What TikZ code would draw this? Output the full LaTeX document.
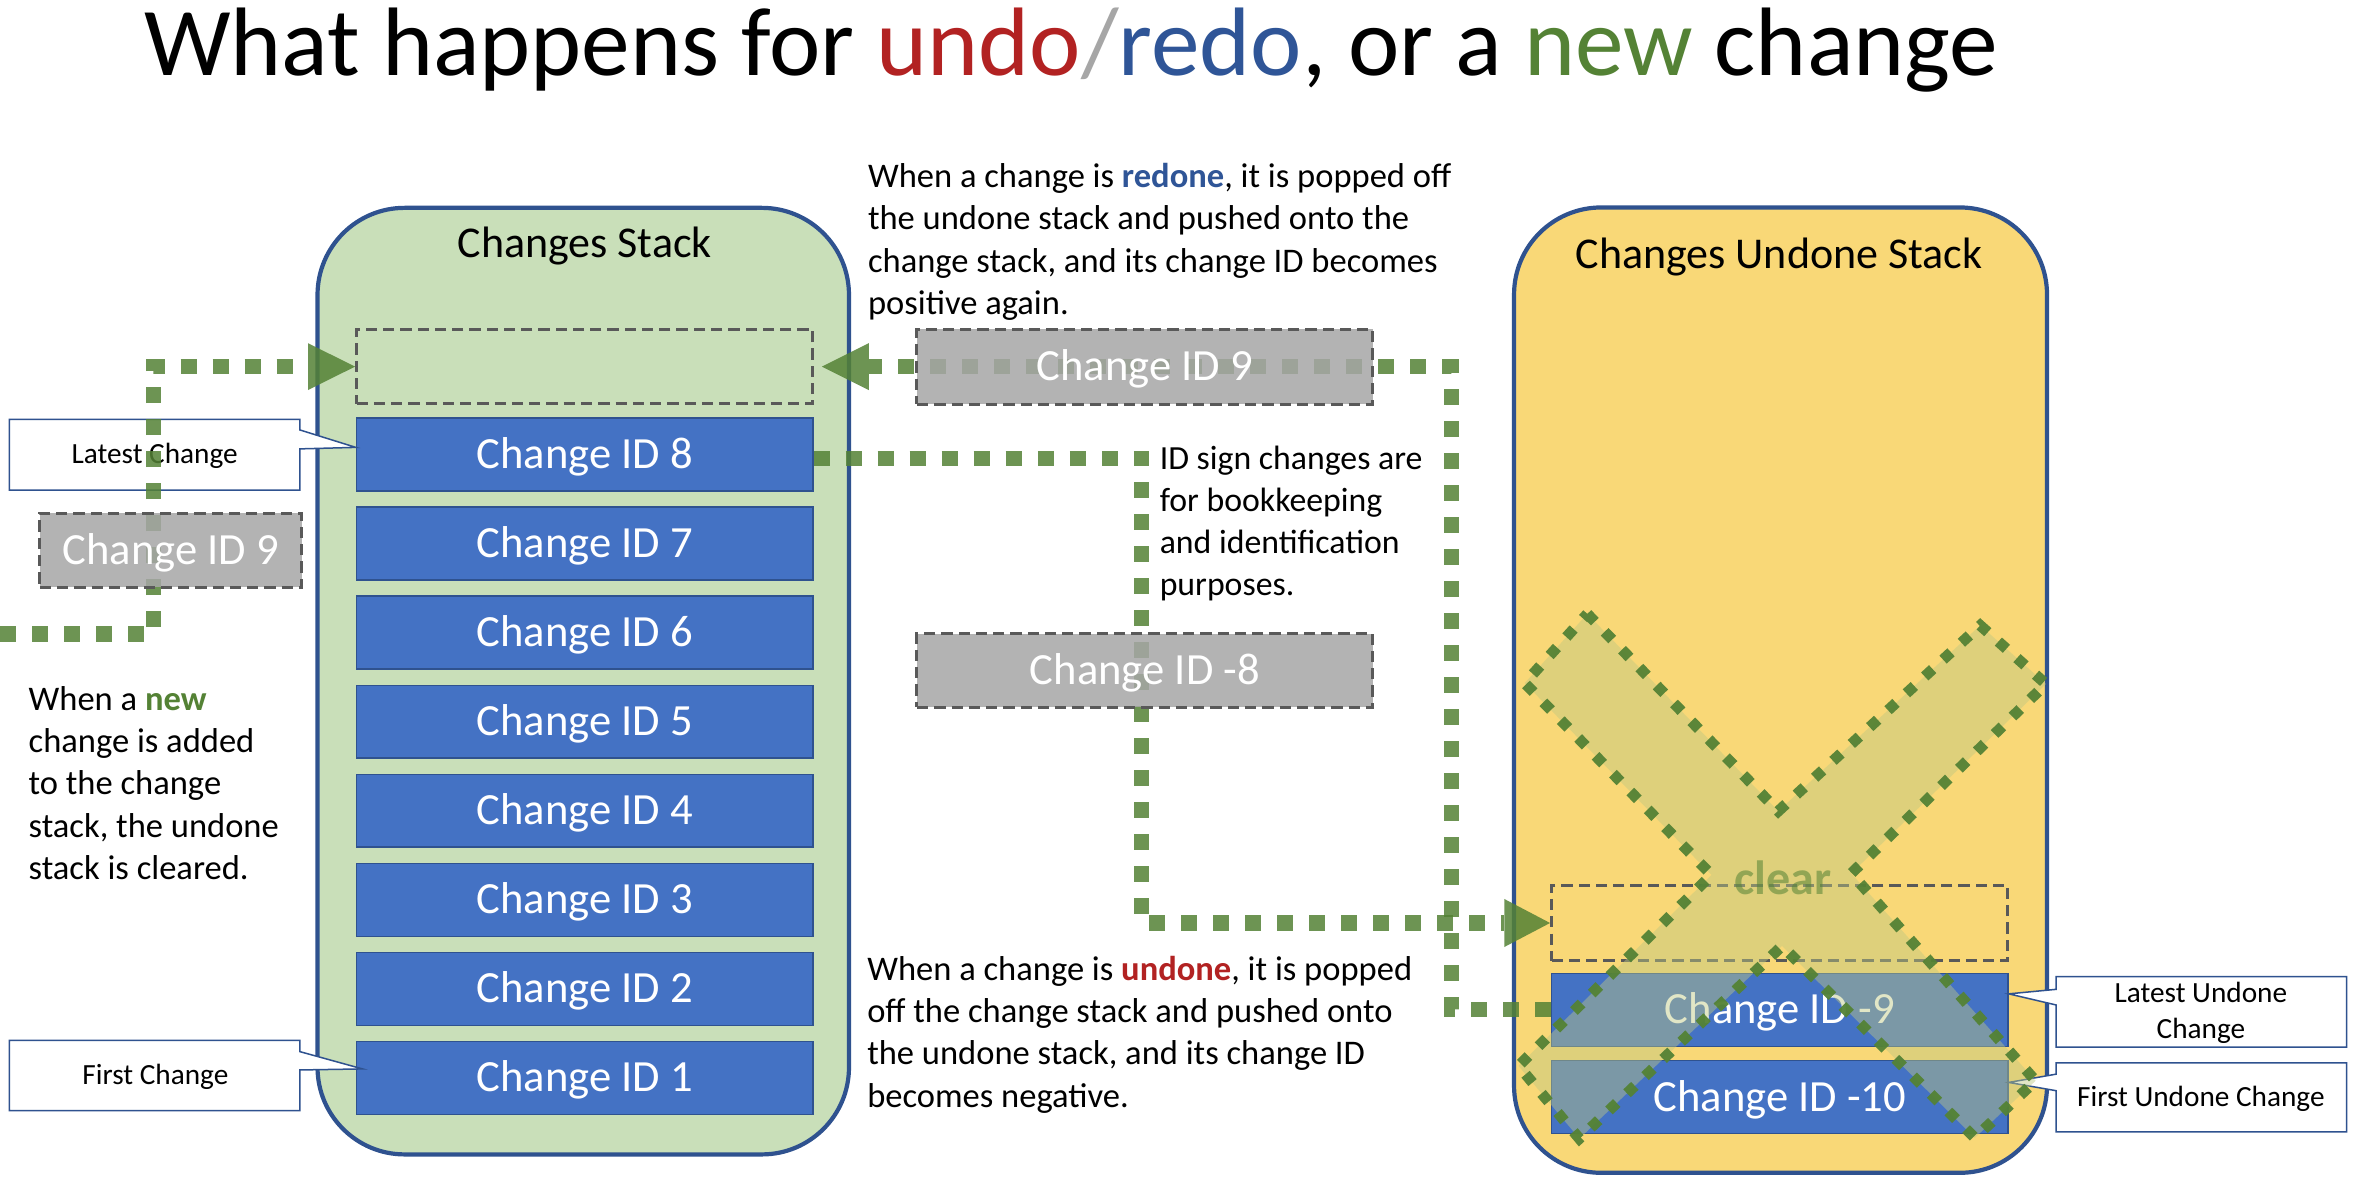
\documentclass[tikz,border=0pt]{standalone}
\usepackage{fontspec}
\setmainfont{Carlito}
\definecolor{bord}{HTML}{2F528F}
\definecolor{boxblue}{HTML}{4472C4}
\definecolor{stackgreen}{HTML}{C9DFB9}
\definecolor{stackyellow}{HTML}{F9D877}
\definecolor{flowgreen}{HTML}{548235}
\definecolor{dashgray}{HTML}{595959}
\definecolor{ghostgray}{HTML}{A6A6A6}
\definecolor{undored}{HTML}{B22222}
\definecolor{redoblue}{HTML}{2F5597}
\definecolor{slashgray}{HTML}{A6A6A6}
\definecolor{xfill}{HTML}{BEC882}
\begin{document}
\begin{tikzpicture}[x=1pt,y=-1pt,
  container/.style={draw=bord, line width=2.8pt, rounded corners=58pt, inner sep=0pt},
  stacktitle/.style={font=\fontsize{29.3}{35}\selectfont, inner sep=0pt, anchor=base},
  idbox/.style={draw=bord, line width=1pt, fill=boxblue, text=white, font=\fontsize{29.7}{35}\selectfont, minimum width=304pt, minimum height=48.5pt, inner sep=0pt, text height=18.5pt, text depth=0pt},
  slot/.style={draw=dashgray, line width=2pt, dash pattern=on 7.5pt off 4pt, minimum width=304pt, minimum height=50pt, inner sep=0pt},
  ghost/.style={draw=dashgray, line width=2pt, dash pattern=on 7.5pt off 4pt, fill=ghostgray, fill opacity=0.85, text opacity=1, text=white, font=\fontsize{29.7}{35}\selectfont, inner sep=0pt, text height=18.5pt, text depth=0pt},
  cline/.style={draw=bord, line width=1pt, fill=white},
  ctext/.style={font=\fontsize{19.5}{24}\selectfont, inner sep=0pt, anchor=base},
  flow/.style={draw=flowgreen, draw opacity=0.85, line width=10pt, dash pattern=on 10.66pt off 10.66pt},
  head/.style={fill=flowgreen, fill opacity=0.85},
  note/.style={font=\fontsize{23}{28.2}\selectfont, inner sep=0pt, anchor=base west},
  xshape/.style={fill=xfill, fill opacity=0.45, draw=flowgreen, draw opacity=0.95, line width=7.2pt, dash pattern=on 7.2pt off 9.4pt}
]
\path[use as bounding box] (0,0) rectangle (1568,789);
\fill[white] (0,0) rectangle (1568,789);

% title
\node[anchor=base, font=\fontsize{64.8}{70}\selectfont, inner sep=0pt] (title) at (713.5,50.5)
  {What happens for \textcolor{undored}{undo}\textcolor{slashgray}{/}\textcolor{redoblue}{redo}, or a \textcolor{flowgreen}{new} change};

% containers
\node[container, fill=stackgreen, minimum width=354pt, minimum height=630.5pt] (cstack) at (388.5,453.7) {};
\node[container, fill=stackyellow, minimum width=355pt, minimum height=643pt] (ustack) at (1186,459.7) {};
\node[stacktitle] (cstackT) at (389.5,171.4) {Changes Stack};
\node[stacktitle] (ustackT) at (1185,179) {Changes Undone Stack};

% changes stack contents
\node[slot, minimum height=49.6pt] (slotA) at (389.5,244.2) {};
\node[idbox] (id8) at (389.5,302.8) {Change ID 8};
\node[idbox] (id7) at (389.5,362.1) {Change ID 7};
\node[idbox] (id6) at (389.5,421.4) {Change ID 6};
\node[idbox] (id5) at (389.5,480.7) {Change ID 5};
\node[idbox] (id4) at (389.5,540.0) {Change ID 4};
\node[idbox] (id3) at (389.5,599.4) {Change ID 3};
\node[idbox] (id2) at (389.5,658.7) {Change ID 2};
\node[idbox] (id1) at (389.5,718.0) {Change ID 1};

% undone stack contents
\node[slot] (slotB) at (1185.5,614.8) {};
\node[idbox] (idm9) at (1185.5,672.7) {Change ID -9};
\node[idbox] (idm10) at (1185.5,730.8) {Change ID -10};

% callouts
\draw[cline] (6.2,279.3) -- (199.8,279.3) -- (199.8,286.4) -- ([yshift=4.8pt]id8.west) -- (199.8,299) -- (199.8,326.4) -- (6.2,326.4) -- cycle;
\node[ctext] (latestC) at (103,309) {Latest Change};
\draw[cline] (6.2,693) -- (199.8,693) -- (199.8,700.5) -- ([xshift=4.5pt,yshift=6pt]id1.west) -- (199.8,712.7) -- (199.8,739.8) -- (6.2,739.8) -- cycle;
\node[ctext] (firstC) at (103.5,722.7) {First Change};
\draw[cline] (1369.5,650.5) -- (1563,650.5) -- (1563,697.4) -- (1369.5,697.4) -- (1369.5,669.4) -- ([yshift=10.7pt]idm9.east) -- (1369.5,659) -- cycle;
\node[ctext] (latestU) at (1466,668) {\vtop{\halign{\hfil#\hfil\cr Latest Undone\cr Change\cr}}};
\draw[cline] (1369.5,708) -- (1563,708) -- (1563,754) -- (1369.5,754) -- (1369.5,726.5) -- ([yshift=9.8pt]idm10.east) -- (1369.5,715.5) -- cycle;
\node[ctext] (firstU) at (1466,737) {First Undone Change};

% flows
\coordinate (lstart) at (0,422.3);
\draw[flow] (lstart) -| (102,244.2) -- ([xshift=-31.3pt]slotA.west);
\fill[head] (slotA.west) -- ++(-31.3,-15.6) -- ++(0,31.2) -- cycle;

\draw[flow] ([yshift=-2.5pt]id8.east) -| (760.6,614.8) -- ([xshift=-30.5pt]slotB.west);
\fill[head] (slotB.west) -- ++(-30.5,-16) -- ++(0,32) -- cycle;

\draw[flow] (idm9.west) -| (967,244.2) -- ([xshift=36.3pt]slotA.east);
\fill[head] ([xshift=5pt]slotA.east) -- ++(31.3,-15.7) -- ++(0,31.4) -- cycle;

% moving (ghost) changes
\node[ghost, minimum width=303.6pt, minimum height=50pt] (g9) at (762.6,244.4) {Change ID 9};
\node[ghost, minimum width=303.6pt, minimum height=49pt] (gm8) at (762.6,446.5) {Change ID -8};
\node[ghost, minimum width=174.4pt, minimum height=49pt] (g9left) at (113.8,366.5) {Change ID 9};

% notes
\node[note] (newnote) at (18.9,473) {\vtop{\hbox{When a \textbf{\textcolor{flowgreen}{new}}}\hbox{change is added}\hbox{to the change}\hbox{stack, the undone}\hbox{stack is cleared.}}};
\node[note] (redonote) at (578,125) {\vtop{\hbox{When a change is \textbf{\textcolor{redoblue}{redone}}, it is popped off}\hbox{the undone stack and pushed onto the}\hbox{change stack, and its change ID becomes}\hbox{positive again.}}};
\node[note] (undonote) at (577.5,652.8) {\vtop{\hbox{When a change is \textbf{\textcolor{undored}{undone}}, it is popped}\hbox{off the change stack and pushed onto}\hbox{the undone stack, and its change ID}\hbox{becomes negative.}}};
\node[note, font=\fontsize{22.5}{27.8}\selectfont] (idnote) at (772.3,313) {\vtop{\hbox{ID sign changes are}\hbox{for bookkeeping}\hbox{and identification}\hbox{purposes.}}};

% clear cross
\path[xshape] (1057.3,408.9) -- (1184.5,540.3) -- (1319,416.6) -- (1362.8,455.6) -- (1233.1,581.8) -- (1355.9,719.9) -- (1315.4,757.9) -- (1187,630.1) -- (1052,758.4) -- (1011.5,710) -- (1140,582.8) -- (1015.6,455) -- cycle;
\node[anchor=base, font=\bfseries\fontsize{32}{36}\selectfont, text=flowgreen, text opacity=0.55, inner sep=0pt] (clear) at (1187.5,596) {clear};
\end{tikzpicture}
\end{document}
